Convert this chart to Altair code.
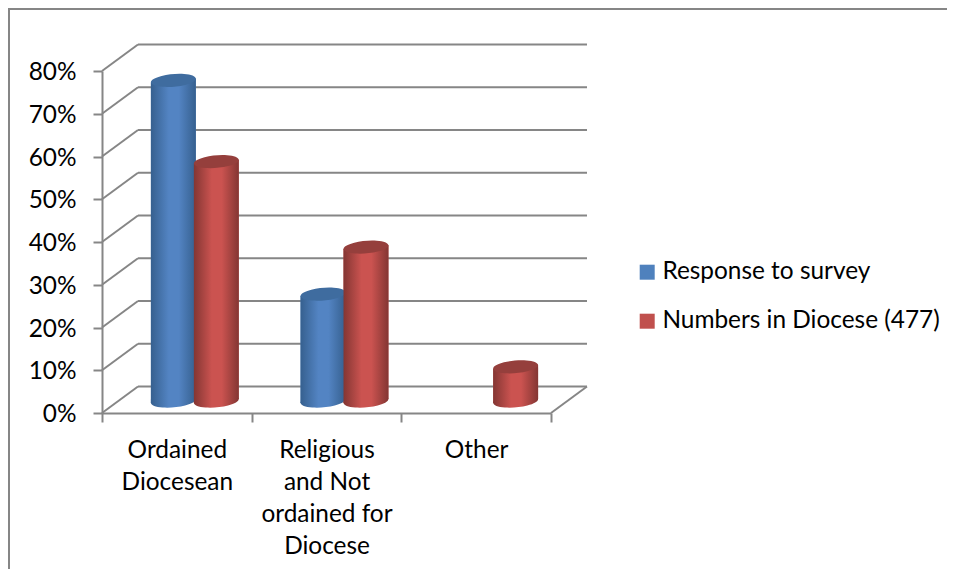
import altair as alt
import pandas as pd

categories = ["Ordained Diocesean", "Religious and Not ordained for Diocese", "Other"]
series = ["Response to survey", "Numbers in Diocese (477)"]
response = [75, 25, 0]
numbers = [56, 36, 8]
percent_ticks = [0, 10, 20, 30, 40, 50, 60, 70, 80]

FONT = "Lato"
FS = 24.4
GRID = "#868686"
BASE = ["#4F81BD", "#C0504D"]
TOPS = ["#3F6C9F", "#953F3C"]
EDGE = ["#36608F", "#843633"]
MID = ["#5384C3", "#CB5350"]

DEPTH_X, DEPTH_Y = 0.2405, 6.2      # depth of the floor, in axis units
BAR_W, BAR_GAP = 0.30, 0.287        # bar width, centre spacing, in category units
TILT = 0.46                         # tilt of a cylinder end, in percent units
ELLIPSE = "M-.9962,.087 A1,.28 -5 1 1 .9962,-.087 A1,.28 -5 1 1 -.9962,.087 Z"
ELLIPSE_SIZE = 45 ** 2

xs = alt.Scale(domain=[0, 3], nice=False, zero=False)
ys = alt.Scale(domain=[0, 80], nice=False, zero=False)
X = lambda f="x": alt.X(f"{f}:Q", scale=xs, axis=None, title=None)
Y = lambda f="y": alt.Y(f"{f}:Q", scale=ys, axis=None, title=None)

# back wall, side wall, floor edge
wall = pd.DataFrame([
    {"x": DEPTH_X, "x2": 3 + DEPTH_X, "y": p + DEPTH_Y, "y2": p + DEPTH_Y} for p in percent_ticks
] + [
    {"x": 0, "x2": DEPTH_X, "y": p, "y2": p + DEPTH_Y} for p in percent_ticks
] + [
    {"x": 3, "x2": 3 + DEPTH_X, "y": 0, "y2": DEPTH_Y}
])
wall["k"] = range(len(wall))
wall_long = pd.concat([
    wall[["k", "x", "y"]],
    wall[["k", "x2", "y2"]].rename(columns={"x2": "x", "y2": "y"}),
])

rows, bodies = [], []
for s, (name, vals) in enumerate(zip(series, [response, numbers])):
    for c, v in enumerate(vals):
        if v <= 0:
            continue
        cx = c + 0.5 + DEPTH_X / 2 + (s - 0.5) * BAR_GAP
        base = DEPTH_Y / 2 - 0.3
        rows.append({"series": name, "s": s, "cx": cx, "top": v + base, "bottom": base})
        for side in (-1, 1):
            bodies.append({
                "series": name, "s": s, "key": f"{s}-{c}",
                "x": cx + side * BAR_W / 2,
                "y": v + base + side * TILT,
                "y0": base + side * TILT,
            })
rows, bodies = pd.DataFrame(rows), pd.DataFrame(bodies)


def grad(s):
    return alt.LinearGradient(
        gradient="linear", x1=0, x2=1, y1=0, y2=0,
        stops=[
            alt.GradientStop(offset=0, color=EDGE[s]),
            alt.GradientStop(offset=0.4, color=MID[s]),
            alt.GradientStop(offset=0.62, color=MID[s]),
            alt.GradientStop(offset=1, color=EDGE[s]),
        ],
    )


frame = [
    alt.Chart(pd.DataFrame({"a": [0]})).mark_rule(color=GRID, strokeWidth=2).encode(
        x=alt.value(-93), y=alt.value(-63), y2=alt.value(498)),
    alt.Chart(pd.DataFrame({"a": [0]})).mark_rule(color=GRID, strokeWidth=2).encode(
        x=alt.value(-94), x2=alt.value(845), y=alt.value(-62)),
]

# tick axis (0..3), y axis
ticks_layer = alt.Chart(wall_long).mark_line(color=GRID, strokeWidth=2).encode(
    x=alt.X("x:Q", scale=xs, title=None, axis=alt.Axis(
        orient="bottom", values=[0, 1, 2, 3], labels=False, grid=False,
        domainColor=GRID, domainWidth=2, tickColor=GRID, tickWidth=2, tickSize=9)),
    y=alt.Y("y:Q", scale=ys, title=None, axis=alt.Axis(
        orient="left", values=percent_ticks, grid=False, labelExpr="datum.value + '%'",
        domainColor=GRID, domainWidth=2, tickColor=GRID, tickWidth=2, tickSize=9,
        labelFont=FONT, labelFontSize=FS, labelColor="#000000", labelPadding=17,
        labelOffset=1.5)),
    detail="k:N",
)

label_expr = (
    "datum.value == 0.5 ? ['Ordained', 'Diocesean'] : "
    "datum.value == 1.5 ? ['Religious', 'and Not', 'ordained for', 'Diocese'] : ['Other']"
)
legend_layer = alt.Chart(bodies).mark_area(orient="vertical").encode(
    x=alt.X("x:Q", scale=xs, title=None, axis=alt.Axis(
        orient="bottom", values=[0.5, 1.5, 2.5], labelExpr=label_expr, grid=False,
        domain=False, ticks=False, labelFont=FONT, labelFontSize=FS, labelColor="#000000",
        labelLineHeight=32, labelPadding=25, labelOverlap=False, labelFlush=False,
        labelBound=False, labelAlign="center", labelBaseline="top")),
    y=Y(), y2="y0:Q",
    detail="key:N",
    color=alt.Color("series:N", sort=series,
                    scale=alt.Scale(domain=series, range=BASE),
                    legend=alt.Legend(
                        orient="none", legendX=533, legendY=189, title=None,
                        symbolType="square", symbolSize=225, symbolStrokeWidth=0,
                        labelFont=FONT, labelFontSize=FS, labelColor="#000000", labelLimit=400,
                        labelOffset=3, rowPadding=24, padding=0)),
)

cylinders = []
for s in [0, 1]:
    b = bodies[bodies.s == s]
    r = rows[rows.s == s]
    cylinders += [
        alt.Chart(r).mark_point(shape=ELLIPSE, size=ELLIPSE_SIZE, filled=True, opacity=1,
                                color=grad(s), strokeWidth=0).encode(x=X("cx"), y=Y("bottom")),
        alt.Chart(b).mark_area(orient="vertical", color=grad(s)).encode(
            x=X(), y=Y(), y2="y0:Q", detail="key:N"),
        alt.Chart(r).mark_point(shape=ELLIPSE, size=ELLIPSE_SIZE, filled=True, opacity=1,
                                color=TOPS[s], strokeWidth=0).encode(x=X("cx"), y=Y("top")),
    ]

chart = alt.layer(*frame, ticks_layer, legend_layer, *cylinders).resolve_axis(
    x="independent", y="independent"
).properties(
    width=449, height=342,
    autosize=alt.AutoSizeParams(type="none"),
    padding={"left": 94, "top": 63, "right": 396, "bottom": 156},
).configure_view(stroke=None)

chart.save("out.html", embed_options={"renderer": "svg", "actions": False})
